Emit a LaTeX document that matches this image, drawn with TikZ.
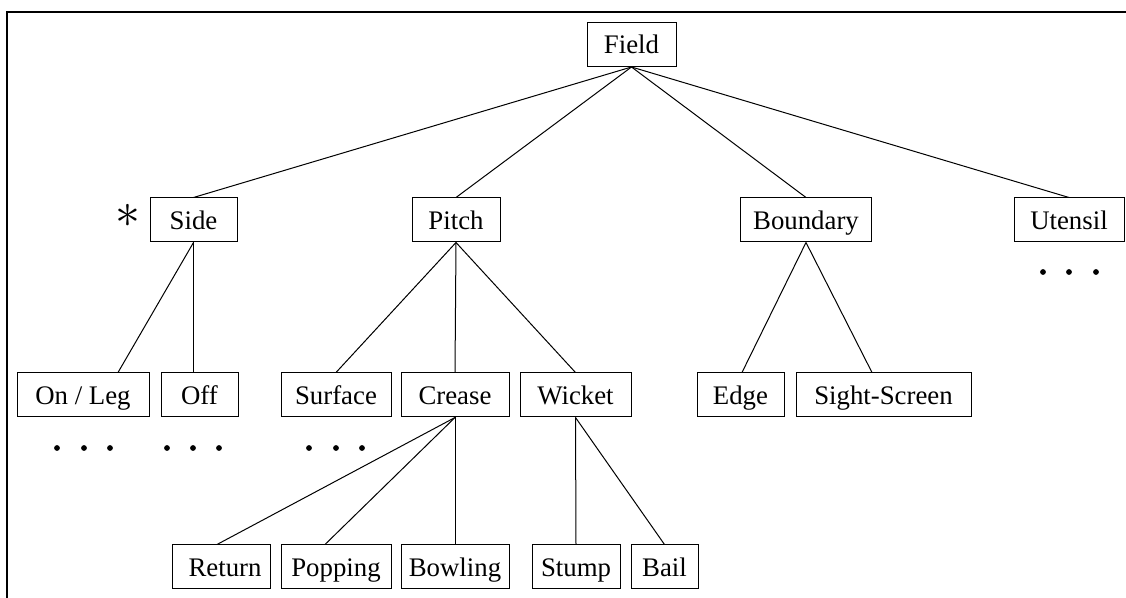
\documentclass[tikz,border=0pt]{standalone}
\usepackage{fontspec}
\setmainfont{Liberation Serif}
\begin{document}
\begin{tikzpicture}[x=0.5pt,y=-0.5pt,
  box/.style={draw, line width=0.5pt, inner sep=0pt, minimum height=22pt,
              text height=1.06em, text depth=0.14em,
              font=\fontsize{13.4}{15}\selectfont},
  link/.style={line width=0.5pt},
  frame/.style={line width=0.9pt},
  dot/.style={fill=black}]
\useasboundingbox (0,0) rectangle (1126,598);

% open frame: top and left edges
\draw[frame] (7,598) -- (7,12) -- (1126,12);

% root
\node[box, minimum width=44.5pt] (field) at (631.5,44.5) {Field};

% first level
\node[box, minimum width=43.5pt] (side) at (193.5,220) {Side};
\node[box, minimum width=44pt] (pitch) at (456,220) {Pitch};
\node[box, minimum width=65.5pt] (boundary) at (806,220) {Boundary};
\node[box, minimum width=55pt] (utensil) at (1069,220) {Utensil};
\node[font=\fontsize{25}{25}\selectfont] (star) at (128,216) {$\ast$};

% second level
\node[box, minimum width=66pt] (onleg) at (83,395) {On / Leg};
\node[box, minimum width=38.5pt] (off) at (199.5,395) {Off};
\node[box, minimum width=55pt] (surface) at (336,395) {Surface};
\node[box, minimum width=54pt] (crease) at (455,395) {Crease};
\node[box, minimum width=55.5pt] (wicket) at (575.5,395) {Wicket};
\node[box, minimum width=43.5pt] (edge) at (740.5,395) {Edge};
\node[box, minimum width=87.5pt] (sight) at (883.5,395) {Sight-Screen};

% third level
\node[box, minimum width=49pt] (return) at (221,567) {\hspace*{4pt}Return};
\node[box, minimum width=55pt] (popping) at (336,567) {Popping};
\node[box, minimum width=54pt] (bowling) at (455,567) {Bowling};
\node[box, minimum width=44pt] (stump) at (576,567) {Stump};
\node[box, minimum width=33.5pt] (bail) at (664.5,567) {Bail};

% connectors
\draw[link] (field.south) -- (side.north);
\draw[link] (field.south) -- (pitch.north);
\draw[link] (field.south) -- (boundary.north);
\draw[link] (field.south) -- (utensil.north);

\draw[link] (side.south) -- ([xshift=17.5pt]onleg.north);
\draw[link] (side.south) -- ([xshift=-3pt]off.north);

\draw[link] (pitch.south) -- (surface.north);
\draw[link] (pitch.south) -- (crease.north);
\draw[link] (pitch.south) -- (wicket.north);

\draw[link] (boundary.south) -- ([xshift=0.75pt]edge.north);
\draw[link] (boundary.south) -- ([xshift=-5.75pt]sight.north);

\draw[link] (crease.south) -- ([xshift=-2pt]return.north);
\draw[link] (crease.south) -- ([xshift=-5.5pt]popping.north);
\draw[link] (crease.south) -- (bowling.north);

\draw[link] (wicket.south) -- (stump.north);
\draw[link] (wicket.south) -- (bail.north);

% ellipsis marks for omitted children
\foreach \x in {57,84,110, 167,193,219, 309,336,362}
  \fill[dot] (\x,448) circle (2.9);
\foreach \x in {1043,1069,1096}
  \fill[dot] (\x,272) circle (2.9);
\end{tikzpicture}
\end{document}
